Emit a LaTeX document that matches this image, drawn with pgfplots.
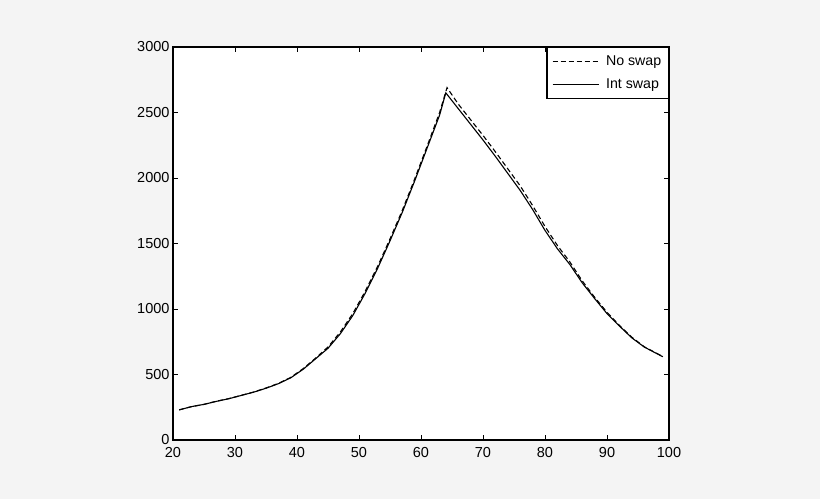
\documentclass[border=0pt]{standalone}
\usepackage{pgfplots}
\pgfplotsset{compat=1.18}
\usepackage{fontspec}
\setmainfont{Liberation Sans}
\definecolor{bggray}{RGB}{244,244,244}

\begin{document}
\begin{tikzpicture}
\fill[bggray] (0,0) rectangle (820pt,499pt);
\begin{axis}[
    at={(173pt,59pt)},
    anchor=south west,
    scale only axis,
    width=496pt,
    height=393pt,
    xmin=20, xmax=100,
    ymin=0, ymax=3000,
    xtick={20,30,...,100},
    ytick={0,500,...,3000},
    tick align=inside,
    major tick length=5pt,
    axis line style={line width=1.4pt},
    tick style={line width=1pt, black},
    axis background/.style={fill=white},
    tick label style={font=\fontsize{14.5}{16}\selectfont},
    xticklabel style={yshift=-4pt},
    /pgf/number format/assume math mode=true,
    /pgf/number format/1000 sep={},
    legend style={at={(1,1)}, anchor=north east, draw=black, line width=1.4pt,
        font=\fontsize{14.2}{16}\selectfont, inner xsep=5pt, inner ysep=6pt,
        row sep=8pt, column sep=5pt, cells={anchor=west}},
    legend image code/.code={\draw[#1, line width=0.9pt] (0pt,0pt) -- (46pt,0pt);},
]
\addplot[black, line width=1.1pt, dash pattern=on 5pt off 3pt] coordinates {
(21,230)(23,255)(25,272)(27,296)(29,316)(31,341)(33,366)(35,397)(37,432)
(39,478)(41,545)(43,625)(45,710)(47,825)(49,965)(51,1135)(53,1325)
(55,1535)(57,1755)(59,1995)(61,2245)(63,2500)(64.2,2690)(66,2565)
(68,2445)(70,2325)(72,2200)(74,2070)(76,1940)(78,1790)(80,1630)
(82,1485)(84,1360)(86,1215)(88,1090)(90,975)(92,875)(94,785)(96,712)
(98,662)(99,638)
};
\addlegendentry{No swap}
\addplot[black, line width=1.1pt] coordinates {
(21,230)(23,255)(25,272)(27,295)(29,315)(31,340)(33,365)(35,395)(37,430)
(39,475)(41,540)(43,620)(45,700)(47,812)(49,950)(51,1120)(53,1310)
(55,1520)(57,1740)(59,1980)(61,2230)(63,2480)(64,2650)(66,2530)
(68,2410)(70,2290)(72,2165)(74,2035)(76,1905)(78,1760)(80,1600)
(82,1460)(84,1340)(86,1200)(88,1080)(90,965)(92,870)(94,780)(96,710)
(98,660)(99,636)
};
\addlegendentry{Int swap}
\end{axis}
\end{tikzpicture}
\end{document}
